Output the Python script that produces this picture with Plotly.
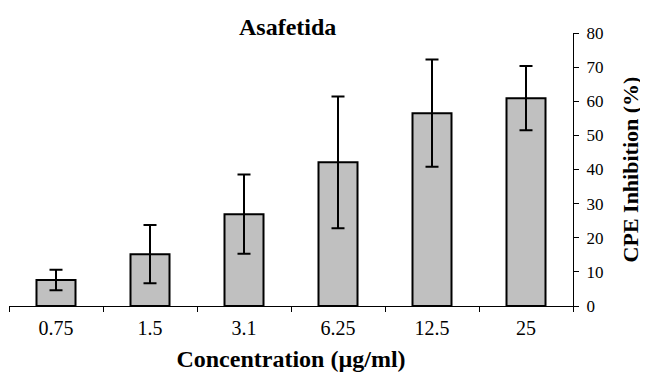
import plotly.graph_objects as go

categories = ["0.75", "1.5", "3.1", "6.25", "12.5", "25"]
inhibition = [7.6, 15.2, 26.9, 42.1, 56.5, 60.9]
error = [3.0, 8.5, 11.6, 19.3, 15.7, 9.4]
y_ticks = [0, 10, 20, 30, 40, 50, 60, 70, 80]

serif = "Liberation Serif, Times New Roman, serif"

fig = go.Figure(go.Bar(
    x=categories,
    y=inhibition,
    marker=dict(color="#c0c0c0", line=dict(color="black", width=2)),
    error_y=dict(type="data", array=error, visible=True, color="black", thickness=2, width=6.5),
))

fig.update_layout(
    width=640, height=373,
    margin=dict(l=1, r=75, t=25, b=75),
    plot_bgcolor="white", paper_bgcolor="white",
    bargap=0.585,
    showlegend=False,
    font=dict(family=serif, color="black"),
    title=dict(text="<b>Asafetida</b>", x=0.437, xanchor="center", y=0.949, yanchor="middle",
               font=dict(family=serif, size=24, color="black")),
    xaxis=dict(
        type="category",
        showline=True, linecolor="black", linewidth=1,
        ticks="outside", tickson="boundaries", ticklen=5, tickcolor="black",
        tickfont=dict(family=serif, size=20, color="black"),
        ticklabelstandoff=4,
        title=dict(text="<b>Concentration (µg/ml)</b>", font=dict(family=serif, size=24, color="black"), standoff=12),
        automargin=False,
    ),
    yaxis=dict(
        side="right",
        range=[0, 80],
        tickvals=y_ticks,
        showline=True, linecolor="black", linewidth=1,
        ticks="outside", ticklen=5, tickcolor="black",
        ticklabelstandoff=4,
        showgrid=False, zeroline=False,
        tickfont=dict(family=serif, size=17, color="black"),
        title=dict(text="<b>CPE Inhibition (%)</b>", font=dict(family=serif, size=22, color="black"), standoff=20),
        automargin=False,
    ),
)

fig.write_html("out.html")
